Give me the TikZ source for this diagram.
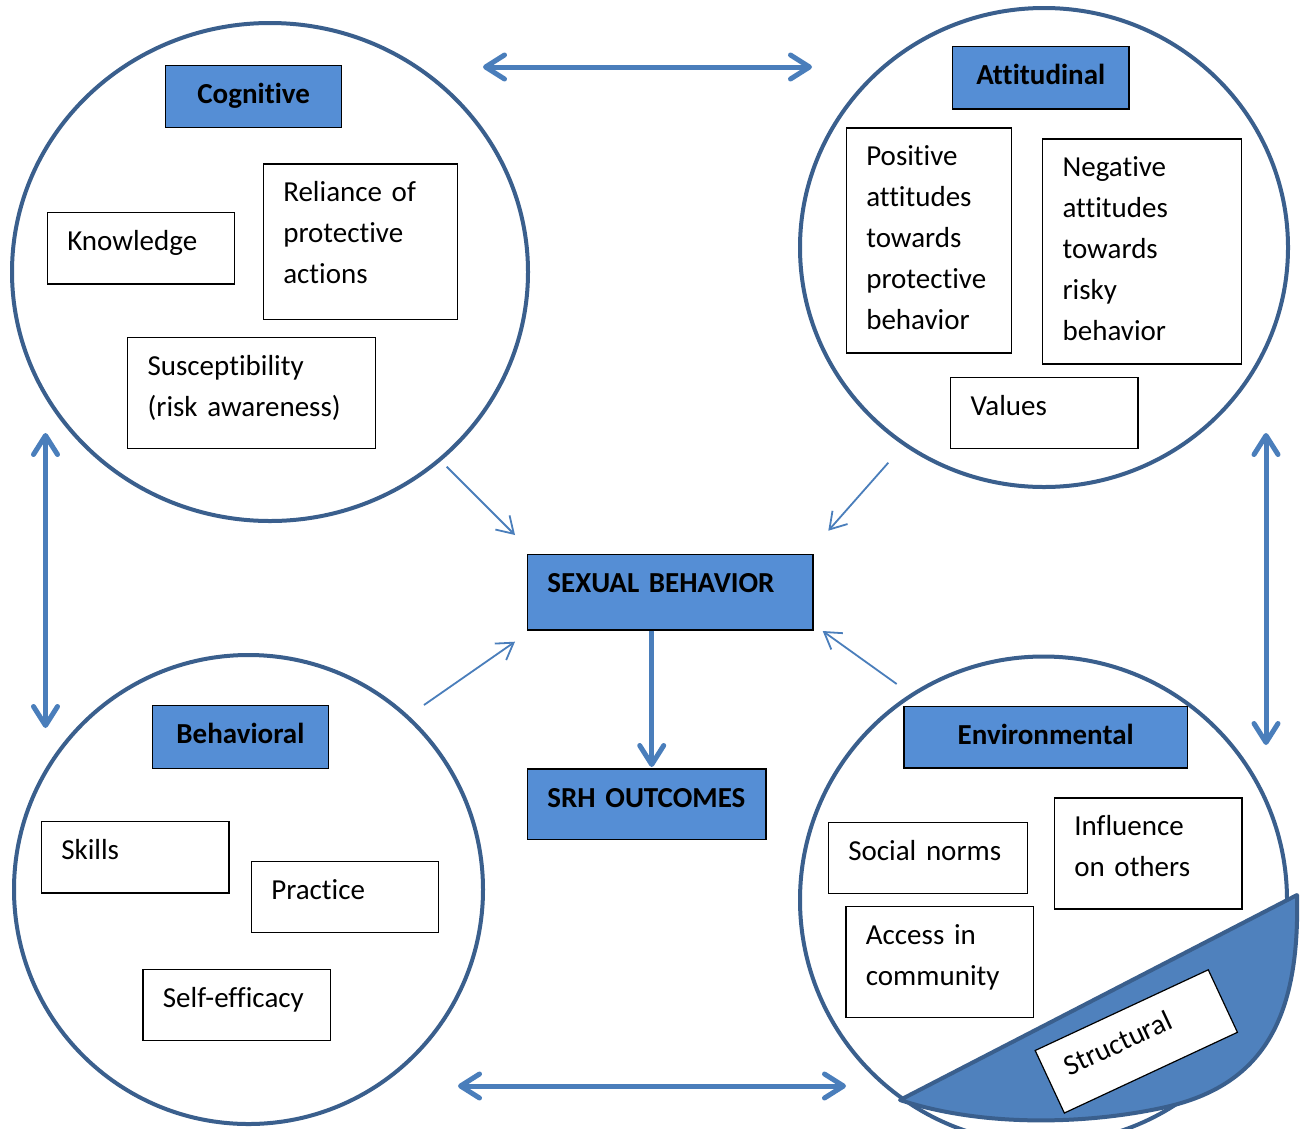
\documentclass[tikz,border=0pt]{standalone}
\usepackage{fontspec}
\setmainfont[Ligatures=CommonOff]{Carlito}
\usepackage{tikz}
\usetikzlibrary{arrows.meta, positioning, calc, shapes.geometric}
\definecolor{RingBlue}{RGB}{58, 95, 141}
\definecolor{HeadBlue}{RGB}{85, 142, 213}
\definecolor{ArrowBlue}{RGB}{74, 126, 187}
\definecolor{ChordBlue}{RGB}{79, 129, 189}

\begin{document}
\begin{tikzpicture}[
    x=1pt, y=-1pt,
    ring/.style={ellipse, draw=RingBlue, line width=4pt, inner sep=0pt},
    itembox/.style={
      draw=black,
      line width=1.2pt,
      fill=white,
      anchor=north west,
      align=left,
      inner xsep=20pt,
      inner ysep=0pt,
      text height=38pt,
      font=\fontsize{29}{41}\selectfont
    },
    keybox/.style={itembox, fill=HeadBlue, line width=1.4pt, font=\bfseries\fontsize{29}{41}\selectfont},
    headbox/.style={keybox, align=center},
    bigarrow/.style={draw=ArrowBlue, line width=5pt, >={Straight Barb[length=19pt,width=24pt,round]}},
    thinarrow/.style={draw=ArrowBlue, line width=1.8pt, -{Straight Barb[length=16pt,width=20pt]}}
  ]
  \path[use as bounding box, fill=white] (0,0) rectangle (1301,1128);

  \node[ring, minimum width=516pt, minimum height=498pt] (cogring) at (270,272) {};
  \node[ring, minimum width=488pt, minimum height=479pt] (attring) at (1044,247.5) {};
  \node[ring, minimum width=469pt, minimum height=469pt] (behring) at (248.5,889.5) {};
  \node[ring, minimum width=487pt, minimum height=487pt] (envring) at (1043.5,900) {};

  % cognitive
  \node[headbox, text width=136pt, text depth=24pt] (cog) at (165,64.5) {Cognitive};
  \node[itembox, text width=147.3pt, text depth=33.6pt] (knowledge) at (46.7,211.7) {Knowledge};
  \node[itembox, text width=154.3pt, text depth=117.7pt] (reliance) at (262.7,163.3)
    {Reliance of\\ protective\\ actions};
  \node[itembox, text width=208pt, text depth=73pt] (suscept) at (127,337)
    {Susceptibility\\ (risk awareness)};

  % attitudinal
  \node[headbox, text width=136.6pt, text depth=24.6pt] (att) at (951.7,45.7) {Attitudinal};
  \node[itembox, text width=125pt, text depth=187pt] (positive) at (845.7,127.3)
    {Positive\\ attitudes\\ towards\\ protective\\ behavior};
  \node[itembox, text width=159pt, text depth=187pt] (negative) at (1042,138.3)
    {Negative\\ attitudes\\ towards\\ risky\\ behavior};
  \node[itembox, text width=147.3pt, text depth=33pt] (values) at (950,376.7) {Values};

  % behavioral
  \node[headbox, text width=136pt, text depth=24.7pt] (beh) at (151.7,705) {Behavioral};
  \node[itembox, text width=147.6pt, text depth=33.3pt] (skills) at (40.7,821) {Skills};
  \node[itembox, text width=147.3pt, text depth=33pt] (practice) at (250.7,860.7) {Practice};
  \node[itembox, text width=147.7pt, text depth=33pt] (selfeff) at (142.3,969) {Self-efficacy};

  % environmental
  \node[headbox, text width=243.4pt, text depth=23.6pt] (env) at (903.3,705.7) {Environmental};
  \node[itembox, text width=159pt, text depth=33pt] (norms) at (827.7,821.7) {Social norms};
  \node[itembox, text width=147.6pt, text depth=73pt] (influence) at (1053.7,797.3)
    {Influence\\ on others};
  \node[itembox, text width=147.4pt, text depth=73pt] (access) at (845.3,905.7)
    {Access in\\ community};
  \filldraw[fill=ChordBlue, draw=RingBlue, line width=4pt, line join=round]
    (900,1100) -- (1297,895) .. controls (1300,1020) and (1262,1085) .. (1166,1107)
    .. controls (1090,1124) and (985,1128) .. cycle;
  \node[itembox, anchor=center, rotate=25, text width=151pt, text depth=31pt] (structural)
    at (1136.3,1041.4) {Structural};

  % centre
  \node[keybox, text width=245.6pt, text depth=37.3pt] (sb) at (526.7,554) {SEXUAL BEHAVIOR};
  \node[keybox, text width=198.6pt, text depth=32.7pt] (srh) at (526.7,768.3) {SRH OUTCOMES};

  \coordinate (topleft) at (483,67);
  \coordinate (topright) at (812,67);
  \coordinate (lefttop) at (45.5,433);
  \coordinate (leftbot) at (45.5,728);
  \coordinate (righttop) at (1266,433);
  \coordinate (rightbot) at (1266,745);
  \coordinate (botleft) at (458,1086);
  \coordinate (botright) at (846,1086);
  \draw[bigarrow, <->] (topleft) -- (topright);
  \draw[bigarrow, <->] (lefttop) -- (leftbot);
  \draw[bigarrow, <->] (righttop) -- (rightbot);
  \draw[bigarrow, <->] (botleft) -- (botright);

  \coordinate (srhtop) at (651.7,767);
  \draw[bigarrow, ->] (sb.south -| srhtop) -- (srhtop);

  \coordinate (cogout) at (446.7,466.7);
  \coordinate (cogin) at (515,535);
  \coordinate (attout) at (888.3,462.7);
  \coordinate (attin) at (828.3,530.7);
  \coordinate (behout) at (424,705);
  \coordinate (behin) at (515,641.7);
  \coordinate (envout) at (896.7,684);
  \coordinate (envin) at (822.7,631);
  \draw[thinarrow] (cogout) -- (cogin);
  \draw[thinarrow] (attout) -- (attin);
  \draw[thinarrow] (behout) -- (behin);
  \draw[thinarrow] (envout) -- (envin);
\end{tikzpicture}
\end{document}
